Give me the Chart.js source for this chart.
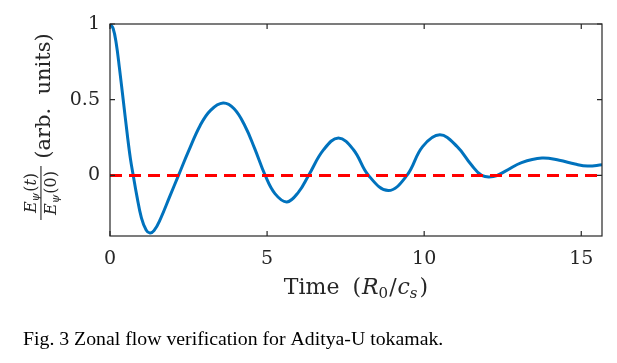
<!DOCTYPE html>
<html>
<head>
<meta charset="utf-8">
<script src="https://cdn.jsdelivr.net/npm/chart.js@4.4.0/dist/chart.umd.min.js"></script>
<style>
  html, body { margin: 0; padding: 0; background: #fff; }
  #wrap { width: 617px; height: 363px; position: relative; }
</style>
</head>
<body>
<div id="wrap"><canvas id="grafico" width="617" height="363"></canvas></div>
<script>
// ======== DADOS ========
const tempo = [0, 0.1, 0.2, 0.3, 0.42, 0.55, 0.65, 0.74, 0.85, 1.0, 1.15, 1.27, 1.4, 1.6, 1.9, 2.18,
  2.5, 2.87, 3.2, 3.6, 3.95, 4.3, 4.6, 4.94, 5.25, 5.63, 6.0, 6.32, 6.8, 7.27, 7.75, 8.23,
  8.86, 9.45, 9.95, 10.5, 11.05, 11.5, 11.83, 12.2, 12.6, 13.1, 13.75, 14.3, 14.8, 15.2, 15.66];
const energia = [1, 0.97, 0.87, 0.71, 0.5, 0.27, 0.11, 0, -0.13, -0.28, -0.36, -0.38, -0.365, -0.29, -0.14, 0,
  0.16, 0.33, 0.43, 0.478, 0.44, 0.325, 0.18, 0, -0.12, -0.175, -0.11, 0, 0.17, 0.247, 0.17, 0,
  -0.1, 0, 0.19, 0.268, 0.19, 0.07, 0, -0.008, 0.03, 0.085, 0.115, 0.1, 0.075, 0.062, 0.07];
const referencia = [0, 0]; // linha tracejada em zero
const tempoRef = [0, 15.66];
const ticksX = [0, 5, 10, 15];
const ticksY = [0, 0.5, 1];
const legenda = "Fig. 3 Zonal flow verification for Aditya-U tokamak.";

const corEixo = '#262626';
const serif = '"DejaVu Serif", serif';

// ======== PLUGIN: caixa, ticks internos, rótulos ========
const extras = {
  id: 'extras',
  afterDraw(chart) {
    const ctx = chart.ctx;
    const a = chart.chartArea;
    const sx = chart.scales.x, sy = chart.scales.y;
    ctx.save();
    // caixa
    ctx.strokeStyle = corEixo;
    ctx.lineWidth = 1.2;
    ctx.strokeRect(a.left, a.top, a.right - a.left, a.bottom - a.top);
    // ticks para dentro
    const tl = 5;
    ctx.beginPath();
    ticksX.forEach(v => {
      const px = sx.getPixelForValue(v);
      ctx.moveTo(px, a.bottom); ctx.lineTo(px, a.bottom - tl);
      ctx.moveTo(px, a.top); ctx.lineTo(px, a.top + tl);
    });
    ticksY.forEach(v => {
      const py = sy.getPixelForValue(v);
      ctx.moveTo(a.left, py); ctx.lineTo(a.left + tl, py);
      ctx.moveTo(a.right, py); ctx.lineTo(a.right - tl, py);
    });
    ctx.stroke();

    ctx.fillStyle = corEixo;
    ctx.textBaseline = 'alphabetic';

    // titulo do eixo x: Time (R0/cs)
    const partes = [
      { t: 'Time', f: '22px ' + serif, dy: 0, gap: 13 },
      { t: '(', f: '22px ' + serif, dy: 0, gap: 1 },
      { t: 'R', f: 'italic 22px ' + serif, dy: 0 },
      { t: '0', f: '15px ' + serif, dy: 4, gap: 1 },
      { t: '/', f: '22px ' + serif, dy: 0, gap: 1 },
      { t: 'c', f: 'italic 22px ' + serif, dy: 0 },
      { t: 's', f: 'italic 15px ' + serif, dy: 4, gap: 2 },
      { t: ')', f: '22px ' + serif, dy: 0 }
    ];
    desenharPartes(ctx, partes, 356, 294);

    // titulo do eixo y (rotacionado)
    ctx.save();
    ctx.translate(43, 127);
    ctx.rotate(-Math.PI / 2);
    // fração
    const num = [
      { t: 'E', f: 'italic 16px ' + serif, dy: 0 },
      { t: 'ψ', f: 'italic 11px ' + serif, dy: 3, gap: 1 },
      { t: '(', f: '16px ' + serif, dy: 0 },
      { t: 't', f: 'italic 16px ' + serif, dy: 0 },
      { t: ')', f: '16px ' + serif, dy: 0 }
    ];
    const den = [
      { t: 'E', f: 'italic 16px ' + serif, dy: 0 },
      { t: 'ψ', f: 'italic 11px ' + serif, dy: 3, gap: 1 },
      { t: '(0)', f: '16px ' + serif, dy: 0 }
    ];
    const cxFrac = -66;
    desenharPartes(ctx, num, cxFrac, -7);
    desenharPartes(ctx, den, cxFrac, 13);
    ctx.fillRect(cxFrac - 27, -2.6, 54, 1.1);
    // (arb. units)
    ctx.font = '21px ' + serif;
    ctx.textAlign = 'center';
    ctx.fillText('(arb.  units)', 31, 7);
    ctx.restore();

    // legenda da figura
    ctx.fillStyle = '#000';
    ctx.font = '19.8px "Liberation Serif", serif';
    ctx.textAlign = 'left';
    ctx.fillText(legenda, 23, 345);
    ctx.restore();
  }
};

function desenharPartes(ctx, partes, cx, base) {
  let total = 0;
  partes.forEach(p => { ctx.font = p.f; total += ctx.measureText(p.t).width + (p.gap || 0); });
  let x = cx - total / 2;
  ctx.textAlign = 'left';
  partes.forEach(p => {
    ctx.font = p.f;
    ctx.fillText(p.t, x, base + p.dy);
    x += ctx.measureText(p.t).width + (p.gap || 0);
  });
}

// ======== GRÁFICO ========
const ctx = document.getElementById('grafico').getContext('2d');
new Chart(ctx, {
  type: 'line',
  data: {
    datasets: [
      {
        label: 'ref',
        data: tempoRef.map((t, i) => ({ x: t, y: referencia[i] })),
        borderColor: '#ff0000',
        borderWidth: 3,
        borderDash: [12, 7],
        pointRadius: 0,
        order: 1
      },
      {
        label: 'E',
        data: tempo.map((t, i) => ({ x: t, y: energia[i] })),
        borderColor: '#0072BD',
        borderWidth: 3,
        pointRadius: 0,
        tension: 0.4,
        order: 2
      }
    ]
  },
  options: {
    responsive: false,
    animation: false,
    layout: { padding: { left: 0, right: 15, top: 24, bottom: 0 } },
    plugins: { legend: { display: false }, tooltip: { enabled: false } },
    scales: {
      x: {
        type: 'linear',
        min: 0,
        max: 15.66,
        afterBuildTicks: s => { s.ticks = ticksX.map(v => ({ value: v })); },
        afterFit: s => { s.height = 127; },
        grid: { display: false, drawTicks: false },
        border: { display: false },
        ticks: { color: corEixo, font: { family: serif, size: 19 }, padding: 12, maxRotation: 0,
                 callback: v => String(v) }
      },
      y: {
        min: -0.4,
        max: 1,
        afterBuildTicks: s => { s.ticks = ticksY.map(v => ({ value: v })); },
        afterFit: s => { s.width = 110; },
        grid: { display: false, drawTicks: false },
        border: { display: false },
        ticks: { color: corEixo, font: { family: serif, size: 19 }, padding: 10,
                 callback: v => String(v) }
      }
    }
  },
  plugins: [extras]
});
</script>
</body>
</html>
